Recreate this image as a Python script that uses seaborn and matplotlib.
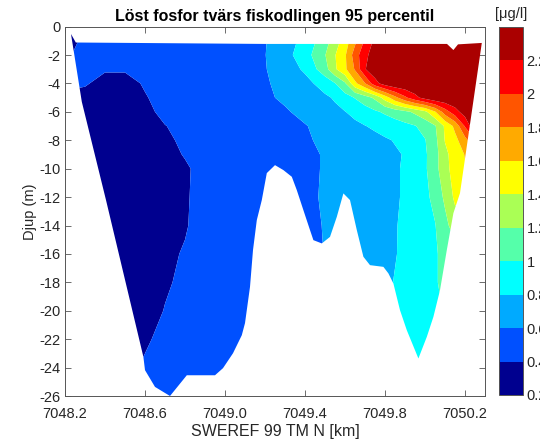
import numpy as np
import matplotlib
matplotlib.use("Agg")
import matplotlib.pyplot as plt
import seaborn as sns
from matplotlib.patches import Polygon

# ---------------- data ----------------
title = "Löst fosfor tvärs fiskodlingen 95 percentil"
x_label = "SWEREF 99 TM N [km]"
y_label = "Djup (m)"
unit_label = "[μg/l]"

x_km = [7048.2, 7048.3, 7048.4, 7048.5, 7048.6, 7048.7, 7048.8, 7048.9, 7049.0, 7049.1,
        7049.2, 7049.3, 7049.4, 7049.5, 7049.55, 7049.6, 7049.65, 7049.7, 7049.75, 7049.8,
        7049.85, 7049.9, 7049.95, 7050.0, 7050.05, 7050.1, 7050.15, 7050.2, 7050.25, 7050.3]
depth_m = [0, -1, -2, -3, -4, -5, -6, -7, -8, -9, -10, -12, -14, -16, -18, -20, -22, -24, -26]

# dissolved phosphorus, 95th percentile [ug/l]; one row per depth
conc = [
    [0.20, 0.50, 0.50, 0.50, 0.50, 0.50, 0.50, 0.50, 0.50, 0.55, 0.59, 0.71, 0.86, 1.12, 1.30, 1.50, 1.75, 2.03, 2.25, 2.38, 2.38, 2.38, 2.38, 2.38, 2.38, 2.38, 2.38, 2.38, 2.38, 2.38],
    [0.20, 0.50, 0.50, 0.50, 0.50, 0.50, 0.50, 0.50, 0.50, 0.55, 0.59, 0.71, 0.86, 1.12, 1.30, 1.50, 1.75, 2.03, 2.25, 2.38, 2.38, 2.38, 2.38, 2.38, 2.38, 2.38, 2.38, 2.38, 2.38, 2.38],
    [0.35, 0.50, 0.50, 0.50, 0.50, 0.50, 0.50, 0.50, 0.50, 0.55, 0.595, 0.73, 0.91, 1.19, 1.39, 1.57, 1.90, 2.15, 2.30, 2.38, 2.38, 2.38, 2.38, 2.38, 2.38, 2.38, 2.38, 2.38, 2.38, 2.38],
    [0.45, 0.47, 0.43, 0.43, 0.47, 0.50, 0.50, 0.50, 0.50, 0.55, 0.59, 0.70, 0.83, 1.12, 1.37, 1.56, 1.82, 2.19, 2.32, 2.38, 2.38, 2.38, 2.38, 2.38, 2.38, 2.38, 2.38, 2.38, 2.38, 2.38],
    [0.45, 0.43, 0.30, 0.30, 0.43, 0.50, 0.50, 0.50, 0.50, 0.54, 0.58, 0.655, 0.74, 0.88, 0.99, 1.17, 1.55, 1.79, 2.13, 2.30, 2.38, 2.38, 2.38, 2.38, 2.38, 2.38, 2.38, 2.38, 2.38, 2.38],
    [0.35, 0.30, 0.30, 0.30, 0.38, 0.50, 0.50, 0.50, 0.50, 0.53, 0.57, 0.63, 0.70, 0.77, 0.82, 0.92, 1.01, 1.11, 1.24, 1.49, 1.74, 1.96, 2.14, 2.28, 2.38, 2.38, 2.38, 2.38, 2.38, 2.38],
    [0.30, 0.30, 0.30, 0.30, 0.30, 0.50, 0.50, 0.50, 0.50, 0.52, 0.55, 0.58, 0.65, 0.72, 0.76, 0.795, 0.85, 0.91, 0.97, 1.03, 1.09, 1.15, 1.24, 1.35, 1.58, 1.90, 2.12, 2.30, 2.38, 2.38],
    [0.30, 0.30, 0.30, 0.30, 0.30, 0.39, 0.50, 0.50, 0.50, 0.51, 0.53, 0.56, 0.59, 0.66, 0.69, 0.73, 0.76, 0.795, 0.83, 0.87, 0.91, 0.95, 0.99, 1.07, 1.18, 1.43, 1.65, 2.02, 2.38, 2.38],
    [0.30, 0.30, 0.30, 0.30, 0.30, 0.30, 0.50, 0.50, 0.50, 0.51, 0.52, 0.55, 0.58, 0.63, 0.65, 0.68, 0.70, 0.73, 0.75, 0.78, 0.81, 0.87, 0.93, 0.99, 1.14, 1.41, 1.54, 1.73, 1.98, 2.18],
    [0.30, 0.30, 0.30, 0.30, 0.30, 0.30, 0.42, 0.50, 0.50, 0.51, 0.52, 0.54, 0.57, 0.61, 0.64, 0.66, 0.69, 0.71, 0.73, 0.76, 0.78, 0.81, 0.89, 0.97, 1.12, 1.35, 1.49, 1.61, 1.70, 1.78],
    [0.30, 0.30, 0.30, 0.30, 0.30, 0.30, 0.36, 0.50, 0.50, 0.51, 0.52, 0.54, 0.57, 0.61, 0.645, 0.668, 0.69, 0.714, 0.736, 0.76, 0.78, 0.82, 0.90, 0.97, 1.13, 1.33, 1.49, 1.58, 1.59, 1.59],
    [0.30, 0.30, 0.30, 0.30, 0.30, 0.30, 0.37, 0.50, 0.50, 0.50, 0.51, 0.53, 0.56, 0.62, 0.64, 0.67, 0.69, 0.71, 0.74, 0.76, 0.78, 0.82, 0.89, 0.95, 1.06, 1.24, 1.44, 1.50, 1.50, 1.50],
    [0.30, 0.30, 0.30, 0.30, 0.30, 0.30, 0.38, 0.50, 0.50, 0.50, 0.50, 0.52, 0.55, 0.61, 0.64, 0.66, 0.69, 0.71, 0.74, 0.76, 0.79, 0.83, 0.88, 0.94, 0.99, 1.14, 1.30, 1.30, 1.30, 1.30],
    [0.30, 0.30, 0.30, 0.30, 0.30, 0.35, 0.42, 0.50, 0.50, 0.50, 0.50, 0.50, 0.54, 0.605, 0.63, 0.66, 0.68, 0.70, 0.73, 0.76, 0.79, 0.84, 0.88, 0.93, 0.98, 1.05, 1.10, 1.10, 1.10, 1.10],
    [0.30, 0.30, 0.30, 0.30, 0.30, 0.37, 0.45, 0.50, 0.50, 0.50, 0.50, 0.50, 0.53, 0.605, 0.63, 0.66, 0.68, 0.70, 0.73, 0.76, 0.81, 0.85, 0.90, 0.94, 0.98, 1.05, 1.10, 1.10, 1.10, 1.10],
    [0.30, 0.30, 0.30, 0.30, 0.30, 0.41, 0.50, 0.50, 0.50, 0.50, 0.50, 0.50, 0.53, 0.605, 0.63, 0.66, 0.69, 0.72, 0.75, 0.78, 0.82, 0.86, 0.90, 0.94, 0.97, 1.01, 1.05, 1.05, 1.05, 1.05],
    [0.30, 0.30, 0.30, 0.30, 0.35, 0.50, 0.50, 0.50, 0.50, 0.50, 0.50, 0.50, 0.53, 0.605, 0.63, 0.66, 0.69, 0.72, 0.75, 0.78, 0.82, 0.87, 0.90, 0.93, 0.96, 1.01, 1.05, 1.05, 1.05, 1.05],
    [0.30, 0.30, 0.30, 0.30, 0.45, 0.50, 0.50, 0.50, 0.50, 0.50, 0.50, 0.50, 0.53, 0.605, 0.63, 0.66, 0.69, 0.72, 0.75, 0.78, 0.82, 0.87, 0.90, 0.93, 0.96, 1.01, 1.05, 1.05, 1.05, 1.05],
    [0.30, 0.30, 0.30, 0.30, 0.45, 0.50, 0.50, 0.50, 0.50, 0.50, 0.50, 0.50, 0.53, 0.605, 0.63, 0.66, 0.69, 0.72, 0.75, 0.78, 0.82, 0.87, 0.90, 0.93, 0.96, 1.01, 1.05, 1.05, 1.05, 1.05],
]

# outline of the water section (surface line, right slope, bottom, left slope)
outline_x = [7048.230, 7048.254, 7049.200, 7050.110, 7050.142, 7050.165, 7050.284,
             7050.175, 7050.142, 7050.109, 7050.075, 7050.042, 7050.009, 7049.967,
             7049.909, 7049.875, 7049.842, 7049.817, 7049.792, 7049.725, 7049.692,
             7049.659, 7049.625, 7049.592, 7049.559, 7049.525, 7049.484, 7049.442,
             7049.425, 7049.392, 7049.359, 7049.334, 7049.292, 7049.250, 7049.209,
             7049.184, 7049.159, 7049.140, 7049.125, 7049.100, 7049.084, 7049.040,
             7048.990, 7048.950, 7048.809, 7048.725, 7048.650, 7048.600, 7048.592,
             7048.405, 7048.284]
outline_y = [-0.52, -1.12, -1.22, -1.22, -1.65, -1.25, -1.15,
             -11.72, -13.13, -15.73, -18.55, -20.43, -21.84, -23.36,
             -21.37, -19.96, -18.08, -17.37, -16.91, -16.79, -16.20,
             -14.32, -12.21, -11.74, -13.39, -14.80, -15.26, -15.03,
             -14.32, -12.92, -11.51, -10.57, -10.10, -9.75, -10.31,
             -12.21, -13.62, -15.73, -18.32, -20.87, -21.72, -22.99,
             -24.04, -24.54, -24.54, -26.00, -25.36, -24.18, -23.25,
             -12.21, -5.29]

levels = [0.2, 0.4, 0.6, 0.8, 1.0, 1.2, 1.4, 1.6, 1.8, 2.0, 2.2, 2.4]
band_colors = ["#00008F", "#0050FF", "#00AAFF", "#00FFFF", "#55FFAA", "#AAFF55",
               "#FFFF00", "#FFAA00", "#FF5500", "#FF0000", "#AA0000"]
cbar_ticks = [0.2, 0.4, 0.6, 0.8, 1.0, 1.2, 1.4, 1.6, 1.8, 2.0, 2.2]
cbar_ticklabels = ["0.2", "0.4", "0.6", "0.8", "1", "1.2", "1.4", "1.6", "1.8", "2", "2.2"]
x_ticks = [7048.2, 7048.6, 7049.0, 7049.4, 7049.8, 7050.2]
x_ticklabels = ["7048.2", "7048.6", "7049.0", "7049.4", "7049.8", "7050.2"]
y_ticks = [0, -2, -4, -6, -8, -10, -12, -14, -16, -18, -20, -22, -24, -26]
y_ticklabels = ["0", "-2", "-4", "-6", "-8", "-10", "-12", "-14", "-16", "-18", "-20", "-22", "-24", "-26"]

# ---------------- styling ----------------
sns.set_style("ticks")
plt.rcParams["font.family"] = ["Liberation Sans", "DejaVu Sans"]
axis_grey = "#555555"
text_grey = "#262626"

fig = plt.figure(figsize=(5.4, 4.42), dpi=100)
W, H = 540.0, 442.0
ax = fig.add_axes([65 / W, 1 - 396 / H, 420 / W, (396 - 26.6) / H])

X, Z = np.meshgrid(np.array(x_km), np.array(depth_m))
V = np.array(conc)
cs = ax.contourf(X, Z, V, levels=levels, colors=band_colors, antialiased=True)

section = Polygon(np.column_stack([outline_x, outline_y]), closed=True,
                  transform=ax.transData, facecolor="none", edgecolor="none")
ax.add_patch(section)
cs.set_clip_path(section)

ax.set_xlim(7048.2, 7050.3)
ax.set_ylim(-26, 0)
ax.set_xticks(x_ticks)
ax.set_xticklabels(x_ticklabels)
ax.set_yticks(y_ticks)
ax.set_yticklabels(y_ticklabels)
ax.tick_params(direction="in", top=True, right=True, length=4, width=0.6,
               color=axis_grey, labelsize=10.5, labelcolor=text_grey, pad=3)
ax.tick_params(axis="x", pad=8)
for sp in ax.spines.values():
    sp.set_visible(True)
    sp.set_color(axis_grey)
    sp.set_linewidth(0.7)

ax.set_title(title, fontsize=11.5, fontweight="bold", color="black", pad=4)
ax.set_xlabel(x_label, fontsize=11.5, color=text_grey, labelpad=2)
ax.set_ylabel(y_label, fontsize=10.5, color=text_grey)
ax.yaxis.set_label_coords(-0.067, 0.5)

# colorbar
cax = fig.add_axes([499 / W, 1 - 395 / H, 23.5 / W, (395 - 26.7) / H])
cb = fig.colorbar(cs, cax=cax, ticks=cbar_ticks)
cb.ax.set_yticklabels(cbar_ticklabels)
cb.outline.set_edgecolor(axis_grey)
cb.outline.set_linewidth(0.7)
cb.ax.tick_params(direction="in", length=3, width=0.6, color=axis_grey,
                  labelsize=10.5, labelcolor=text_grey, pad=3)
fig.text(511 / W, 1 - 14 / H, unit_label, ha="center", va="center",
         fontsize=10.5, color=text_grey)

fig.savefig("out.png", dpi=100, facecolor="white")
